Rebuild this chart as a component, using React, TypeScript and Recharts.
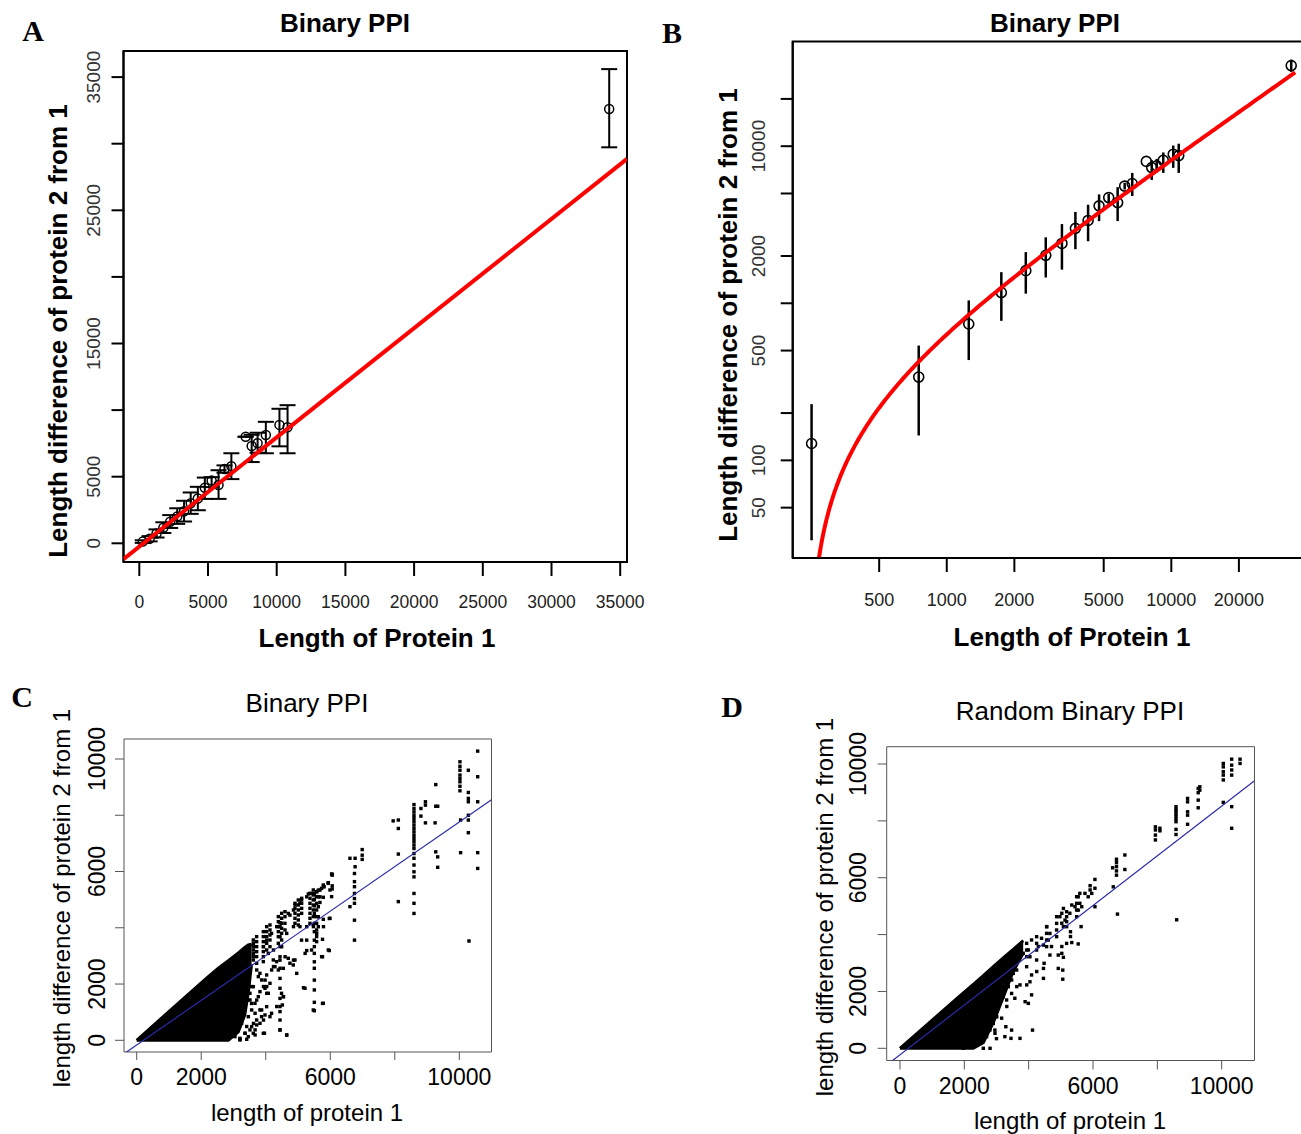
import React from 'react';
import { ComposedChart, Scatter, Area, XAxis, YAxis, ErrorBar, ReferenceArea } from 'recharts';

const FONT = '"Liberation Sans", Arial, Helvetica, sans-serif';
const SERIF = '"Liberation Serif", "Times New Roman", serif';

// ---------- Panels A & B : binned mean length differences ----------
const proteinLength = [250, 750, 1253, 1750, 2249, 2760, 3258, 3740, 4260, 4768, 5263, 5768, 6199, 6700, 7740, 8180, 8610, 9210, 10200, 10790, 34200];
const meanDiff = [128, 339, 738, 1170, 1613, 2020, 2403, 2999, 3367, 4171, 4708, 4374, 5572, 5783, 8000, 7310, 7510, 8130, 8890, 8710, 32600];
const diffLower = [31, 144, 435, 773, 1152, 1459, 1637, 2210, 2483, 3334, 4217, 3334, 5300, 4820, 8000, 6100, 6800, 6760, 7280, 6760, 29730];
const diffUpper = [228, 538, 1043, 1578, 2117, 2630, 3193, 3815, 4240, 4933, 4966, 5486, 5850, 6760, 8000, 8150, 8300, 9120, 10100, 10370, 35600];

// fitted regression lines (slope, intercept)
const fitA = { slope: 0.82, intercept: -246 };
const fitB = { slope: 0.834, intercept: -201 };
const fitC = { slope: 0.793, intercept: -166 };
const fitD = { slope: 0.875, intercept: -229 };

const ticksA = [0, 5000, 10000, 15000, 20000, 25000, 30000, 35000];
const labelsAY = [0, 5000, 15000, 25000, 35000];
const ticksBX = [500, 1000, 2000, 5000, 10000, 20000];
const ticksBY = [50, 100, 200, 500, 1000, 2000, 5000, 10000, 20000];
const labelsBY = [50, 100, 500, 2000, 10000];
const ticksCD = [0, 2000, 4000, 6000, 8000, 10000];
const labelsCD = [0, 2000, 6000, 10000];

const xDomA = [-1150, 35495];
const yDomA = [-1404, 36960];
const xDomB = [206, 38200];
const yDomB = [23.9, 46400];
const xDomC = [-394, 10998];
const yDomC = [-416, 10711];
const xDomD = [-413, 11020];
const yDomD = [-429, 10609];

// ---------- Panel C : Binary PPI scatter ----------
// dense core of overlapping points (x, lower edge, upper edge)
const cCloudX = [0, 1807, 2220, 2530, 2840, 3150, 3350, 3460, 3560];
const cCloudLow = [0, 0, 0, 0, 0, 300, 900, 1700, 2700];
const cCloudHigh = [0, 1850, 2260, 2560, 2830, 3110, 3300, 3390, 3420];

const cColumnsX = [10020, 8595, 6750, 5630, 5577, 5506, 5474, 5371, 5113, 5009, 4906, 4596, 4493, 4442, 4390, 4131, 4028, 3925, 3718, 3615];
const cColumnsY = [
  [9900, 9740, 9600, 9430, 9310, 9190, 9030, 8870],
  [8380, 8240, 8120, 8000, 7890, 7770, 7650, 7530, 7410, 7290, 7180, 7060, 6940, 6820, 6640, 6470, 6230, 5990, 5810, 5220, 4870, 4510],
  [5640, 5460, 5220, 5040, 4870, 4270, 3560],
  [5340, 5100, 4750, 4390, 4040],
  [5285, 5107, 4870, 4633, 4396, 4159, 3922, 3685, 3507],
  [5220, 5010, 4780, 4510, 4160, 3860, 3560, 3330, 3090, 2790, 2560, 2140, 1790, 1350, 1050],
  [5344, 5166, 4988, 4810, 4633, 4396, 4100],
  [5225, 5047, 4870, 4692, 4514, 4337, 4159],
  [5047, 4870, 4692, 4514],
  [4988, 4810, 4633, 4455, 4277, 4100],
  [4870, 4692, 4514, 4337, 4159],
  [4573, 4396, 4159, 3922],
  [4514, 4337, 4159, 3981, 3803, 3566, 3329],
  [4180, 4040, 3680, 3330, 2970, 2560, 2200, 1850, 1490, 1200, 1020, 720, 370],
  [4396, 4218, 4040, 3862, 3685, 3448],
  [4100, 3922, 3744, 3566, 3329],
  [4040, 3862, 3685, 3448, 3211],
  [3862, 3685, 3507, 3329, 3151, 2974, 2796],
  [3685, 3507, 3329, 3151, 2974, 2737],
  [3566, 3448, 3329, 3211, 3092, 2974, 2855],
];
const cScattered = [
  [10570, 10280], [10280, 9600], [10570, 9370], [10280, 8810], [10280, 8600], [10280, 8480], [10570, 8480], [10280, 8000],
  [10280, 7830], [10040, 7830], [10280, 7380], [10040, 6670], [10570, 6670], [10570, 6110], [10300, 3530],
  [9270, 9090], [9270, 8320], [9330, 8320], [9250, 7730], [9270, 6700], [9330, 6520], [9330, 6150],
  [8950, 8480], [8950, 8360], [8810, 8240], [8950, 7730], [8810, 7970],
  [8110, 7830], [8110, 7530], [7950, 7800], [8110, 6620], [8110, 4930],
  [6990, 6780], [6990, 6580], [6990, 6430], [6770, 6470], [6770, 6170], [6750, 5930], [6610, 6470], [6610, 4750],
  [6060, 5900], [6060, 5490], [6060, 5380], [5940, 5600], [5810, 5460], [5680, 5340], [5680, 5100], [5680, 4900], [5970, 4330],
  [6042, 5912], [5939, 5604], [5784, 5521], [5991, 5344], [6042, 5107], [5784, 5083], [5991, 4336], [5784, 4301],
  [5939, 3211], [5732, 2974], [5784, 1315], [5474, 1078], [5216, 1848], [4854, 2677], [4906, 2855], [4699, 2914],
  [4545, 2559], [4545, 1552], [4514, 1255], [4441, 367], [4648, 189],
  [5760, 1310], [5760, 3590], [5970, 3190], [5760, 2970], [5170, 1870], [5270, 3190],
  [4550, 1550], [4650, 190], [3960, 250], [4130, 840], [3870, 840], [3720, 545], [3670, 370], [3410, 36], [3200, 36],
  [3560, 1310], [3720, 1430], [4030, 1910], [3980, 2140],
  [4180, 960], [4340, 1200], [4490, 1670], [4240, 2620], [4440, 2850], [4600, 2970], [4750, 2740], [4860, 2850], [4960, 2380],
  [5110, 3560], [5270, 3560], [5220, 3090], [5420, 3210], [5580, 3800], [5790, 4040], [5480, 4040], [5270, 4040], [5060, 4040],
  [4860, 4040], [4650, 3800], [4340, 4040], [4180, 3800], [4030, 3560], [3930, 3330], [4080, 3090], [4240, 3210],
  [3720, 2500], [3820, 2380], [3930, 1910], [4030, 1670], [3670, 960], [3820, 1080], [3930, 720], [3620, 600], [3510, 370],
  [3670, 190], [3560, 1910], [3510, 1670], [3460, 1430], [3310, 1200], [3150, 1080], [3410, 490], [3360, 250], [3200, 70],
  [3047, 130], [3202, 11], [3357, 248], [3460, 130], [3563, 485], [3615, 248], [3718, 722], [3460, 840], [3563, 1078],
  [3666, 1315], [3770, 1552], [3821, 1729], [3511, 1433], [3357, 1078], [3253, 604], [3873, 1078], [3976, 900], [3925, 248],
  [4028, 1196], [3821, 604], [4080, 1670], [3976, 1848], [4131, 2026], [3873, 2144], [3770, 2263], [3615, 1907], [4028, 2322],
  [4183, 2500], [4286, 2618], [4235, 2855], [4338, 2796], [4390, 2500],
  [4700, 4510], [4750, 4450], [4860, 4630], [4910, 4810], [5060, 4870], [5110, 4990], [5270, 5100], [5320, 5200],
  [5420, 5220], [5580, 5280], [5730, 5400], [5790, 5460], [5940, 5580], [6060, 5870],
];

// ---------- Panel D : Random Binary PPI scatter ----------
const dCloudX = [0, 1870, 2280, 2590, 2900, 3210, 3520, 3830];
const dCloudLow = [0, 0, 0, 200, 900, 1800, 2700, 3340];
const dCloudHigh = [0, 1850, 2250, 2560, 2870, 3180, 3480, 3790];

const dColumnsX = [10050, 10310, 8940, 8580, 7940, 6730, 5491, 5180, 4869, 4558, 4248, 3937];
const dColumnsY = [
  [10020, 9900, 9730, 9610, 9440],
  [10170, 9960, 9790, 9610],
  [8790, 8670, 8320, 8200, 7880],
  [8500, 8400, 8320, 8240, 8150, 8060, 7970, 7700, 7520],
  [7790, 7680, 7500, 7330],
  [6650, 6530, 6390, 6240, 6090],
  [5333, 5098, 4864, 4629],
  [4805, 4629, 4454, 4278],
  [4629, 4395, 4161, 3926],
  [4278, 4043, 3809, 3575],
  [3926, 3692, 3457, 3106],
  [3692, 3457, 3223, 2871],
];
const dScattered = [
  [10570, 10170], [10570, 10020], [10050, 8650], [10310, 8500], [10310, 7740],
  [9270, 9140], [9320, 9080], [9270, 8990], [9320, 9200], [9270, 8730], [9270, 8460],
  [8600, 4520], [8080, 7740], [8080, 7650],
  [6610, 6350], [6990, 6800], [6990, 6290], [6630, 5680], [6760, 4720],
  [6060, 5940], [5910, 5720], [5910, 5570], [6060, 5630], [5960, 5450], [6060, 4980], [5850, 5330], [5750, 5450], [5590, 5450],
  [5540, 5330], [5590, 5100], [5650, 4980], [5540, 4860], [5440, 4980], [5340, 5040], [5280, 4750], [5080, 4920], [5030, 4750],
  [4970, 4630], [5130, 4510], [5030, 4400], [5080, 4280], [5630, 4280], [5300, 4100], [5300, 3930], [5180, 3690], [5030, 3580],
  [4710, 3580], [4560, 4280], [4660, 4040], [4610, 3810], [4400, 3870], [4460, 3630], [4300, 3580], [4090, 3810], [3990, 3460],
  [4040, 3220], [3830, 3340],
  [5540, 3670], [5340, 3720], [5030, 3340], [5080, 3200], [4920, 3280], [4920, 2810], [5060, 2750], [5060, 2430], [4660, 3280],
  [4480, 2990], [4460, 2810], [4460, 2460], [4250, 2700], [4090, 2580], [4040, 2340], [3940, 2230], [3730, 2230], [3890, 1640],
  [3990, 1580], [4090, 1880], [4120, 640], [3470, 640], [3290, 760], [3260, 410], [3450, 350], [3730, 350], [3000, 340],
  [2800, 0], [2950, 640], [3160, 1060], [3320, 1470], [3570, 1760], [3470, 1930], [3630, 2170], [3000, 1110], [2900, 1350],
  [1968, 0], [2176, 59], [2383, 117], [2590, 0], [2486, 293], [2694, 410], [2797, 645], [2642, 762], [2901, 879],
  [3004, 1113], [2849, 1289], [3108, 1582], [3212, 1817], [3367, 2168], [3471, 2403], [3160, 2110], [3522, 2637],
  [3626, 2754], [3315, 1699], [2953, 527],
];

// ---------- derived tables ----------
const binned = proteinLength.map((x, i) => ({
  x,
  y: meanDiff[i],
  err: [meanDiff[i] - diffLower[i], diffUpper[i] - meanDiff[i]],
}));
const lineA = xDomA.map((x) => ({ x, y: fitA.slope * x + fitA.intercept }));
const curveStartB = 270;
const curveEndB = 35600;
const curveB = Array.from({ length: 240 }, (_, i) => {
  const x = curveStartB * Math.pow(curveEndB / curveStartB, Math.pow(i / 239, 1.6));
  return { x, y: fitB.slope * x + fitB.intercept };
});
const lineC = xDomC.map((x) => ({ x, y: fitC.slope * x + fitC.intercept }));
const lineD = xDomD.map((x) => ({ x, y: fitD.slope * x + fitD.intercept }));

const toBand = (xs: number[], lo: number[], hi: number[]) => xs.map((x, i) => ({ x, band: [lo[i], hi[i]] }));
const toPoints = (colX: number[], colY: number[][], scattered: number[][]) => [
  ...colX.flatMap((x, i) => colY[i].map((y) => ({ x, y }))),
  ...scattered.map(([x, y]) => ({ x, y })),
];
const cloudC = toBand(cCloudX, cCloudLow, cCloudHigh);
const cloudD = toBand(dCloudX, dCloudLow, dCloudHigh);
const pointsC = toPoints(cColumnsX, cColumnsY, cScattered);
const pointsD = toPoints(dColumnsX, dColumnsY, dScattered);

// ---------- shapes & ticks ----------
const emptyShape = () => <g />;
const circleShape = (r: number, sw: number) => (p: any) => (
  <circle cx={p.cx} cy={p.cy} r={r} fill="none" stroke="#000" strokeWidth={sw} />
);
const squareShape = (p: any) => <rect x={p.cx - 1.7} y={p.cy - 1.7} width={3.4} height={3.4} fill="#000" />;

const makeXTick = (labels: number[], fontSize: number, fill: string) => (p: any) => {
  if (!labels.includes(p.payload.value)) return <g />;
  return (
    <text x={p.x} y={p.y} dy="0.35em" textAnchor="middle" fontSize={fontSize} fill={fill} fontFamily={FONT}>
      {p.payload.value}
    </text>
  );
};
const makeYTick = (labels: number[], fontSize: number, fill: string) => (p: any) => {
  if (!labels.includes(p.payload.value)) return <g />;
  return (
    <text
      x={p.x}
      y={p.y}
      dy="0.35em"
      textAnchor="middle"
      transform={`rotate(-90 ${p.x} ${p.y})`}
      fontSize={fontSize}
      fill={fill}
      fontFamily={FONT}
    >
      {p.payload.value}
    </text>
  );
};

const blackAxis = { stroke: '#000', strokeWidth: 2 };
const greyAxis = { stroke: '#555', strokeWidth: 1 };

function PanelA() {
  return (
    <ComposedChart width={660} height={640} margin={{ top: 51, right: 33, bottom: 38, left: 0 }}>
      <XAxis type="number" dataKey="x" domain={xDomA} ticks={ticksA} interval={0} allowDataOverflow height={40}
        tickSize={14} tickMargin={26} axisLine={blackAxis} tickLine={blackAxis} tick={makeXTick(ticksA, 17.5, '#222')} />
      <YAxis type="number" dataKey="y" domain={yDomA} ticks={ticksA} interval={0} allowDataOverflow width={123.5}
        tickSize={12} tickMargin={18.5} axisLine={blackAxis} tickLine={blackAxis} tick={makeYTick(labelsAY, 19, '#333')} />
      <ReferenceArea x1={xDomA[0]} x2={xDomA[1]} y1={yDomA[0]} y2={yDomA[1]} fill="none" fillOpacity={0} stroke="#000" strokeWidth={2} strokeOpacity={1} />
      <Scatter data={binned} shape={circleShape(4.5, 1.5)} isAnimationActive={false}>
        <ErrorBar dataKey="err" direction="y" width={8} stroke="#000" strokeWidth={2} />
      </Scatter>
      <Scatter data={lineA} shape={emptyShape} line={{ stroke: '#ff0000', strokeWidth: 4 }} isAnimationActive={false} />
    </ComposedChart>
  );
}

function PanelB() {
  return (
    <ComposedChart width={645} height={640} margin={{ top: 41.5, right: 3, bottom: 42, left: 0 }}>
      <XAxis type="number" scale="log" dataKey="x" domain={xDomB} ticks={ticksBX} interval={0} allowDataOverflow height={40}
        tickSize={14} tickMargin={28} axisLine={blackAxis} tickLine={blackAxis} tick={makeXTick(ticksBX, 18, '#222')} />
      <YAxis type="number" scale="log" dataKey="y" domain={yDomB} ticks={ticksBY} interval={0} allowDataOverflow width={132.7}
        tickSize={12} tickMargin={22.7} axisLine={blackAxis} tickLine={blackAxis} tick={makeYTick(labelsBY, 19, '#333')} />
      <ReferenceArea x1={xDomB[0]} x2={xDomB[1]} y1={yDomB[0]} y2={yDomB[1]} fill="none" fillOpacity={0} stroke="#000" strokeWidth={2} strokeOpacity={1} />
      <Scatter data={binned} shape={circleShape(5, 1.6)} isAnimationActive={false}>
        <ErrorBar dataKey="err" direction="y" width={0} stroke="#000" strokeWidth={2.5} />
      </Scatter>
      <Scatter data={curveB} shape={emptyShape} line={{ stroke: '#ff0000', strokeWidth: 4 }} isAnimationActive={false} />
    </ComposedChart>
  );
}

function PanelScatter(props: any) {
  const { width, height, margin, yWidth, cloud, points, line, xDom, yDom, xTickSize, xTickMargin, yTickSize, yTickMargin } = props;
  return (
    <ComposedChart width={width} height={height} data={cloud} margin={margin}>
      <XAxis type="number" dataKey="x" domain={xDom} ticks={ticksCD} interval={0} allowDataOverflow height={40}
        tickSize={xTickSize} tickMargin={xTickMargin} axisLine={false} tickLine={greyAxis} tick={makeXTick(labelsCD, 23, '#000')} />
      <YAxis type="number" dataKey="y" domain={yDom} ticks={ticksCD} interval={0} allowDataOverflow width={yWidth}
        tickSize={yTickSize} tickMargin={yTickMargin} axisLine={false} tickLine={greyAxis} tick={makeYTick(labelsCD, 23, '#000')} />
      <ReferenceArea x1={xDom[0]} x2={xDom[1]} y1={yDom[0]} y2={yDom[1]} fill="none" fillOpacity={0} stroke="#555" strokeWidth={1} strokeOpacity={1} />
      <Area type="linear" dataKey="band" fill="#000" fillOpacity={1} stroke="#000" strokeWidth={3} isAnimationActive={false} />
      <Scatter data={points} shape={squareShape} isAnimationActive={false} />
      <Scatter data={line} shape={emptyShape} line={{ stroke: '#2a2aa8', strokeWidth: 1.2 }} isAnimationActive={false} />
    </ComposedChart>
  );
}

function T(props: any) {
  const { x, y, size, bold, serif, rotate, children } = props;
  return (
    <div
      style={{
        position: 'absolute',
        left: x,
        top: y,
        transform: `translate(-50%, -50%)${rotate ? ' rotate(-90deg)' : ''}`,
        whiteSpace: 'nowrap',
        fontSize: size,
        fontWeight: bold ? 700 : 400,
        fontFamily: serif ? SERIF : FONT,
        color: '#000',
        lineHeight: 1,
      }}
    >
      {children}
    </div>
  );
}

export default function App() {
  return (
    <div style={{ position: 'absolute', left: 0, top: 0, width: 1301, height: 1134, overflow: 'hidden', background: '#fff' }}>
      <div style={{ position: 'absolute', left: 0, top: 0 }}>
        <PanelA />
      </div>
      <div style={{ position: 'absolute', left: 660, top: 0 }}>
        <PanelB />
      </div>
      <div style={{ position: 'absolute', left: 0, top: 660 }}>
        <PanelScatter width={520} height={470} margin={{ top: 79, right: 28.5, bottom: 38, left: 0 }} yWidth={124}
          cloud={cloudC} points={pointsC} line={lineC} xDom={xDomC} yDom={yDomC}
          xTickSize={8} xTickMargin={17} yTickSize={9} yTickMargin={18} />
      </div>
      <div style={{ position: 'absolute', left: 660, top: 660 }}>
        <PanelScatter width={620} height={470} margin={{ top: 86.7, right: 25.5, bottom: 29.5, left: 0 }} yWidth={226.7}
          cloud={cloudD} points={pointsD} line={lineD} xDom={xDomD} yDom={yDomD}
          xTickSize={9} xTickMargin={16.5} yTickSize={9} yTickMargin={20} />
      </div>

      <T x={33} y={31} size={30} bold serif>A</T>
      <T x={672} y={33} size={30} bold serif>B</T>
      <T x={22} y={697} size={30} bold serif>C</T>
      <T x={732} y={707} size={30} bold serif>D</T>

      <T x={345} y={23} size={26} bold>Binary PPI</T>
      <T x={1055} y={23} size={26} bold>Binary PPI</T>
      <T x={307} y={703} size={26}>Binary PPI</T>
      <T x={1070} y={711} size={26}>Random Binary PPI</T>

      <T x={377} y={638} size={26} bold>Length of Protein 1</T>
      <T x={1072} y={637} size={26} bold>Length of Protein 1</T>
      <T x={307} y={1113} size={24}>length of protein 1</T>
      <T x={1070} y={1121} size={24}>length of protein 1</T>

      <T x={58} y={331} size={26} bold rotate>Length difference of protein 2 from 1</T>
      <T x={728} y={315} size={26} bold rotate>Length difference of protein 2 from 1</T>
      <T x={62} y={898} size={24} rotate>length difference of protein 2 from 1</T>
      <T x={825} y={907} size={24} rotate>length difference of protein 2 from 1</T>
    </div>
  );
}
